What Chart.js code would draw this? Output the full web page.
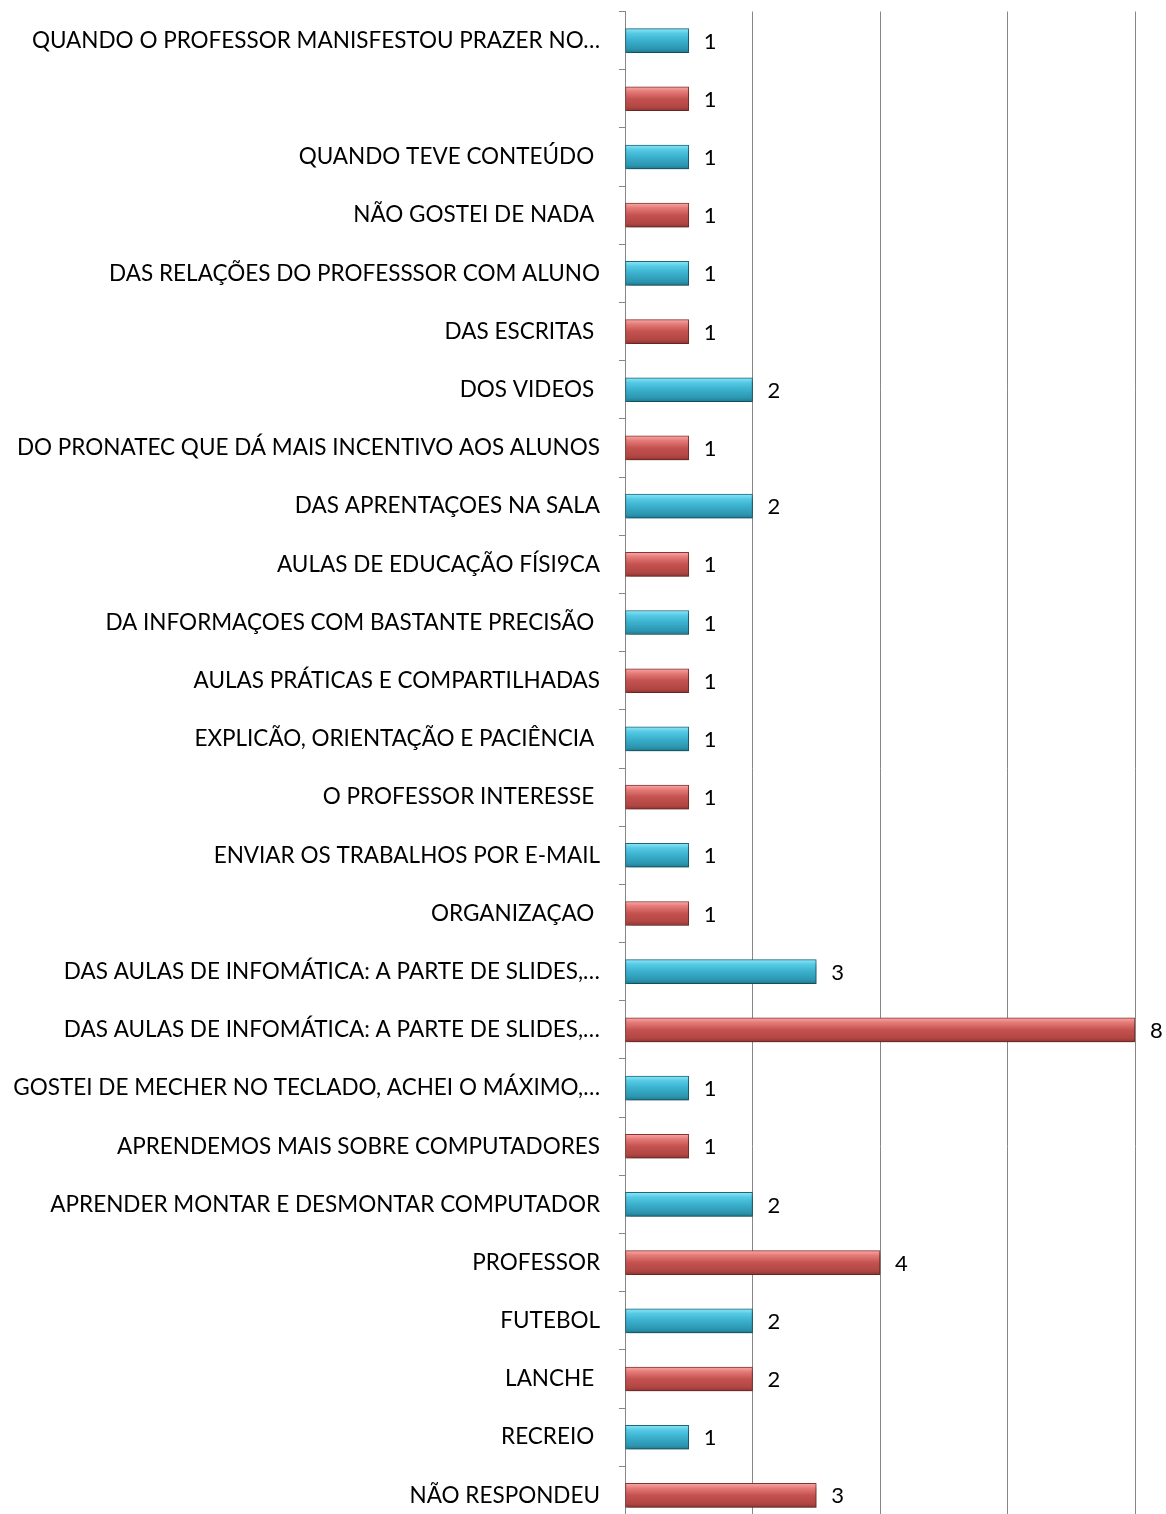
<!DOCTYPE html>
<html lang="pt">
<head>
<meta charset="UTF-8">
<title>Gráfico</title>
<style>
    html, body { margin: 0; padding: 0; background: #fff; overflow: hidden; }
    #wrap { width: 1166px; height: 1578px; margin-top: -21px; }
</style>
</head>
<body>
<div id="wrap"><canvas id="grafico"></canvas></div>

<script src="https://cdn.jsdelivr.net/npm/chart.js"></script>
<script>
// categorias (de cima para baixo) e valores
const categorias = [
    'QUANDO O PROFESSOR MANISFESTOU PRAZER NO…',
    '',
    'QUANDO TEVE CONTEÚDO ',
    'NÃO GOSTEI DE NADA ',
    'DAS RELAÇÕES DO PROFESSSOR COM ALUNO',
    'DAS ESCRITAS ',
    'DOS VIDEOS ',
    'DO PRONATEC QUE DÁ MAIS INCENTIVO AOS ALUNOS',
    'DAS APRENTAÇOES NA SALA',
    'AULAS DE EDUCAÇÃO FÍSI9CA',
    'DA INFORMAÇOES COM BASTANTE PRECISÃO ',
    'AULAS PRÁTICAS E COMPARTILHADAS',
    'EXPLICÃO, ORIENTAÇÃO E PACIÊNCIA ',
    'O PROFESSOR INTERESSE ',
    'ENVIAR OS TRABALHOS POR E-MAIL',
    'ORGANIZAÇAO ',
    'DAS AULAS DE INFOMÁTICA: A PARTE DE SLIDES,…',
    'DAS AULAS DE INFOMÁTICA: A PARTE DE SLIDES,…',
    'GOSTEI DE MECHER NO TECLADO, ACHEI O MÁXIMO,…',
    'APRENDEMOS MAIS SOBRE COMPUTADORES',
    'APRENDER MONTAR E DESMONTAR COMPUTADOR',
    'PROFESSOR',
    'FUTEBOL',
    'LANCHE ',
    'RECREIO ',
    'NÃO RESPONDEU'
];
const valores = [1, 1, 1, 1, 1, 1, 2, 1, 2, 1, 1, 1, 1, 1, 1, 1, 3, 8, 1, 1, 2, 4, 2, 2, 1, 3];

// cores: azul e vermelho alternados
const azul = ['#8ee6f8', '#55cae5', '#3ab0cd', '#2c95af', '#1f7890'];
const vermelho = ['#f9a9a7', '#e47a77', '#c4524f', '#b04643', '#8e3431'];
const bordaAzul = '#1d6a7c';
const bordaVermelho = '#8a3532';
const ESPESSURA = 24;
const FONTE = 'Lato, "Open Sans", sans-serif';

function corBarra(c) {
    const paleta = c.dataIndex % 2 === 0 ? azul : vermelho;
    const chart = c.chart;
    if (c.type !== 'data' || !chart.chartArea) return paleta[2];
    const y = chart.scales.y.getPixelForValue(c.dataIndex);
    const g = chart.ctx.createLinearGradient(0, y - ESPESSURA / 2, 0, y + ESPESSURA / 2);
    g.addColorStop(0, paleta[0]);
    g.addColorStop(0.2, paleta[1]);
    g.addColorStop(0.5, paleta[2]);
    g.addColorStop(0.85, paleta[3]);
    g.addColorStop(1, paleta[4]);
    return g;
}

// sombra leve embaixo das barras
const sombra = {
    id: 'sombra',
    beforeDatasetsDraw(chart) {
        const ctx = chart.ctx;
        ctx.save();
        ctx.shadowColor = 'rgba(0,0,0,0.35)';
        ctx.shadowBlur = 5;
        ctx.shadowOffsetX = 2;
        ctx.shadowOffsetY = 3;
    },
    afterDatasetsDraw(chart) {
        chart.ctx.restore();
    }
};

// valores ao lado das barras
const rotulos = {
    id: 'rotulos',
    afterDatasetsDraw(chart) {
        const ctx = chart.ctx;
        const meta = chart.getDatasetMeta(0);
        ctx.save();
        ctx.font = '22px ' + FONTE;
        ctx.fillStyle = '#000';
        ctx.textAlign = 'left';
        ctx.textBaseline = 'middle';
        meta.data.forEach((bar, i) => {
            ctx.fillText(String(valores[i]), bar.x + 15, bar.y + 1);
        });
        ctx.restore();
    }
};

new Chart(document.getElementById('grafico'), {
    type: 'bar',
    data: {
        labels: categorias,
        datasets: [{
            data: valores,
            backgroundColor: corBarra,
            borderColor: c => c.dataIndex % 2 === 0 ? bordaAzul : bordaVermelho,
            borderWidth: 1,
            borderSkipped: false,
            barThickness: ESPESSURA
        }]
    },
    options: {
        indexAxis: 'y',
        responsive: true,
        maintainAspectRatio: false,
        animation: false,
        layout: { padding: { top: 11, right: 31, bottom: 0, left: 0 } },
        plugins: {
            legend: { display: false },
            tooltip: { enabled: false }
        },
        scales: {
            x: {
                min: 0,
                max: 8,
                ticks: { display: false, stepSize: 2 },
                grid: { color: '#878787', lineWidth: 1, drawTicks: false },
                border: { display: false }
            },
            y: {
                afterFit(scale) { scale.width = 625; },
                ticks: {
                    autoSkip: false,
                    color: '#000',
                    padding: 19,
                    font: { family: FONTE, size: 22.5 }
                },
                grid: {
                    offset: true,
                    drawOnChartArea: false,
                    tickLength: 6,
                    color: '#878787'
                },
                border: { display: true, color: '#878787', width: 1 }
            }
        }
    },
    plugins: [sombra, rotulos]
});
</script>
</body>
</html>
